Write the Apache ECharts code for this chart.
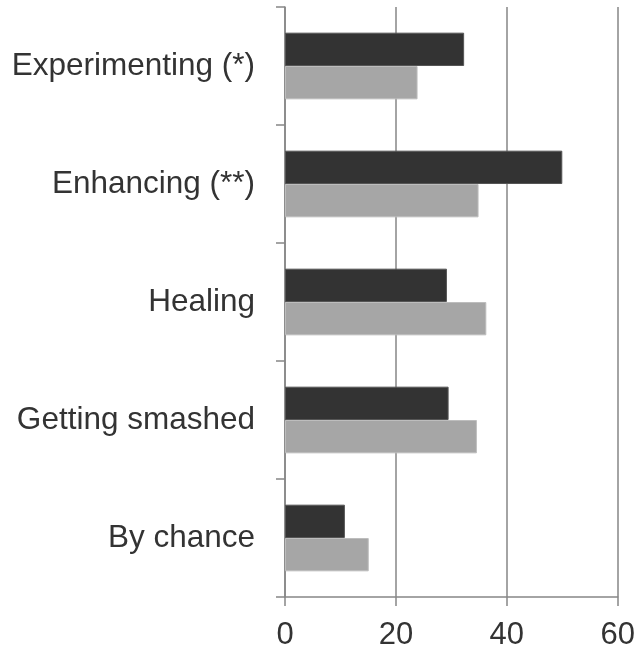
<!DOCTYPE html>
<html>
<head>
<meta charset="utf-8">
<script src="https://cdn.jsdelivr.net/npm/echarts@6/dist/echarts.min.js"></script>
<style>html,body{margin:0;padding:0;background:#fff;}#c{width:638px;height:651px;}</style>
</head>
<body>
<div id="c"></div>
<script>
var categories = ['Experimenting (*)', 'Enhancing (**)', 'Healing', 'Getting smashed', 'By chance'];
var darkValues = [32.3, 50.0, 29.2, 29.5, 10.8];
var lightValues = [23.9, 34.9, 36.3, 34.6, 15.1];
var xTicks = [0, 20, 40, 60];

var chart = echarts.init(document.getElementById('c'), null, {renderer: 'canvas'});
var font = 'Liberation Sans, Arial, sans-serif';
chart.setOption({
  animation: false,
  backgroundColor: '#ffffff',
  grid: {left: 285, right: 20, top: 7, bottom: 54, containLabel: false},
  xAxis: {
    type: 'value', min: xTicks[0], max: xTicks[xTicks.length - 1], interval: 20,
    axisLine: {show: true, lineStyle: {color: '#868686', width: 1.5}},
    axisTick: {show: true, length: 9, lineStyle: {color: '#868686', width: 1.5}},
    splitLine: {show: true, lineStyle: {color: '#868686', width: 1.5}},
    axisLabel: {color: '#333333', fontSize: 31, fontFamily: font, margin: 23}
  },
  yAxis: {
    type: 'category', data: categories, inverse: true,
    axisLine: {show: true, lineStyle: {color: '#868686', width: 1.5}},
    axisTick: {show: true, length: 9, lineStyle: {color: '#868686', width: 1.5}},
    axisLabel: {color: '#333333', fontSize: 31.5, fontFamily: font, margin: 30}
  },
  series: [
    {type: 'bar', data: darkValues, barGap: '0%', barCategoryGap: '43.5%',
     itemStyle: {color: '#333333', borderColor: '#555555', borderWidth: 1}},
    {type: 'bar', data: lightValues, barGap: '0%', barCategoryGap: '43.5%',
     itemStyle: {color: '#a6a6a6', borderColor: '#bdbdbd', borderWidth: 1}}
  ]
});
</script>
</body>
</html>
